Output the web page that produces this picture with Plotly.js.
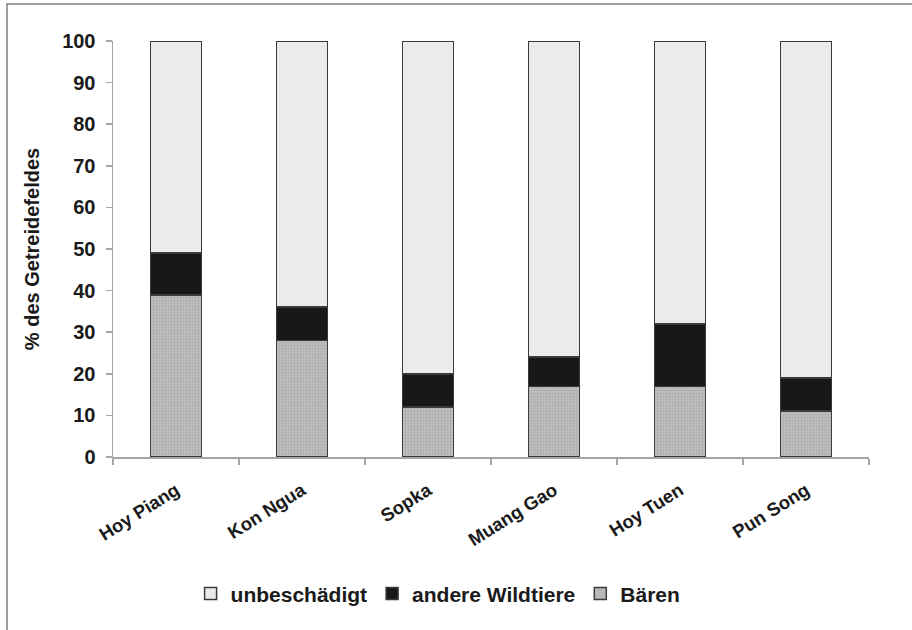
<!DOCTYPE html>
<html>
<head>
<meta charset="utf-8">
<script src="https://cdn.plot.ly/plotly-3.0.1.min.js"></script>
<style>html,body{margin:0;padding:0;background:#fff;}#chart{width:912px;height:630px;}</style>
</head>
<body>
<div id="chart"></div>
<script>
const categories = ["Hoy Piang", "Kon Ngua", "Sopka", "Muang Gao", "Hoy Tuen", "Pun Song"];
const baeren = [39, 28, 12, 17, 17, 11];
const andere = [10, 8, 8, 7, 15, 8];
const unbeschaedigt = [51, 64, 80, 76, 68, 81];
const yTicks = [0, 10, 20, 30, 40, 50, 60, 70, 80, 90, 100];

const lineStyle = {color: '#3a3a3a', width: 1.5};
const traces = [
  {type: 'bar', name: 'Bären', x: categories, y: baeren,
   marker: {color: '#b9bab9', line: lineStyle,
            pattern: {shape: '.', size: 3, solidity: 0.35, fgcolor: '#a9aaa9', bgcolor: '#bebfbe', fillmode: 'replace'}}},
  {type: 'bar', name: 'andere Wildtiere', x: categories, y: andere,
   marker: {color: '#171918', line: lineStyle}},
  {type: 'bar', name: 'unbeschädigt', x: categories, y: unbeschaedigt,
   marker: {color: '#ebebeb', line: lineStyle}}
];

const font = {family: 'Liberation Sans, Arial, sans-serif', color: '#1a1a1a', weight: 'bold'};

const layout = {
  width: 912, height: 630,
  margin: {l: 113, r: 43, t: 41, b: 173},
  paper_bgcolor: '#fff', plot_bgcolor: '#fff',
  barmode: 'stack', bargap: 0.595,
  showlegend: true,
  font: font,
  xaxis: {
    type: 'category', tickangle: -32, tickson: 'boundaries',
    ticks: 'outside', ticklen: 6, tickcolor: '#a6a6a6', tickwidth: 1.5,
    showline: true, linecolor: '#a6a6a6', linewidth: 1.5,
    tickfont: Object.assign({}, font, {size: 18.5}),
    ticklabelstandoff: 14,
    showgrid: false, zeroline: false, fixedrange: true
  },
  yaxis: {
    range: [0, 100], tickvals: yTicks,
    ticks: 'outside', ticklen: 6, tickcolor: '#a6a6a6', tickwidth: 1.5,
    showline: true, linecolor: '#a6a6a6', linewidth: 1.5,
    tickfont: Object.assign({}, font, {size: 20}),
    ticklabelstandoff: 6,
    showgrid: false, zeroline: false,
    title: {text: '% des Getreidefeldes', font: Object.assign({}, font, {size: 20}), standoff: 17}
  },
  legend: {
    orientation: 'h', traceorder: 'reversed',
    x: 0.43, xanchor: 'center', y: -0.329, yanchor: 'middle',
    font: Object.assign({}, font, {size: 21}),
    itemwidth: 30, tracegroupgap: 0
  },
  shapes: [{
    type: 'path', xref: 'paper', yref: 'paper',
    path: 'M -0.1402 -0.44 L -0.1402 1.0889 L 1.06 1.0889',
    line: {color: '#808080', width: 1.5}
  }]
};

Plotly.newPlot('chart', traces, layout, {displayModeBar: false, staticPlot: true});
</script>
</body>
</html>
